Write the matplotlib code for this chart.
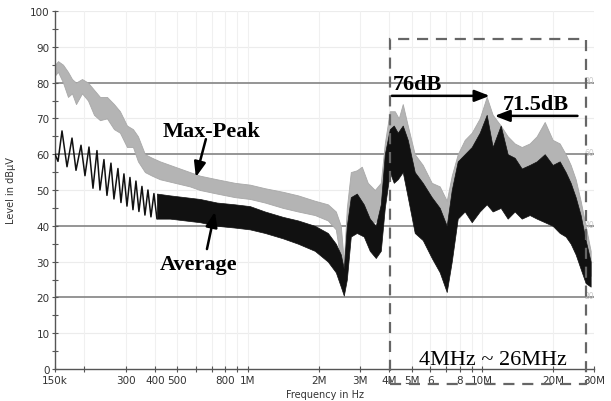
import numpy as np
import matplotlib
matplotlib.use("Agg")
import matplotlib.pyplot as plt
from matplotlib.ticker import FixedLocator, NullFormatter
from matplotlib.patches import Rectangle

# Average trace, low band: individual ripples (Hz, dBuV)
avg_osc_f = [150.0e3, 154.5e3, 160.7e3, 168.8e3, 177.3e3, 184.4e3, 193.7e3, 201.4e3,
             209.5e3, 217.9e3, 226.6e3, 233.4e3, 242.7e3, 250.0e3, 260.0e3, 267.8e3,
             278.5e3, 286.9e3, 295.4e3, 304.3e3, 313.4e3, 322.8e3, 332.4e3, 342.3e3,
             352.6e3, 363.1e3, 374.0e3, 385.2e3, 396.7e3, 408.5e3]
avg_osc_db = [60, 58, 66.5, 56.5, 64.5, 55.5, 62.5, 54, 62, 50.5, 61, 50, 58.5, 48.5,
              57.5, 47.5, 56, 46.5, 54.5, 45.5, 53.5, 44.5, 52.5, 44, 51, 43, 50, 42.5,
              49, 42]

# Average trace, dense part: envelope (MHz, low, high)
avg_f = [0.4085, 0.4642, 0.5379, 0.6233, 0.7366, 0.879, 1.0187, 1.1803, 1.4085, 1.6346,
         1.929, 2.192, 2.371, 2.49, 2.565, 2.642, 2.747, 2.914, 3.121, 3.311, 3.512,
         3.689, 3.837, 4.03, 4.191, 4.359, 4.578, 4.809, 5.151, 5.572, 6.087, 6.585,
         7.053, 7.41, 7.859, 8.418, 9.018, 9.755, 10.449, 11.08, 11.99, 12.84, 13.76,
         14.74, 15.94, 17.08, 18.48, 19.98, 21.41, 22.71, 23.85, 25.05, 26.3, 27.63, 29.03]
avg_lo = [42, 42, 41.5, 41, 40, 39.5, 39, 38, 36.5, 35, 33, 30, 27, 23, 20.5, 25, 37, 38,
          37, 33, 31, 33, 45, 55, 52, 53, 55, 48, 38, 36, 31, 27, 21.5, 30, 42, 44, 41,
          44, 46, 44, 45, 42, 44, 42, 43, 42, 41, 40, 38, 37, 35, 32, 28, 24, 23]
avg_hi = [49, 48.5, 48, 47.5, 46.5, 46, 45.5, 44, 42.5, 41.5, 40, 38, 35, 32, 28, 40, 48,
          49, 46, 42, 40, 46, 60, 67, 68, 66, 68, 64, 55, 52, 48, 45, 40, 50, 58, 60, 62,
          66, 71, 62, 68, 60, 59, 56, 57, 58, 60, 57, 58, 55, 52, 48, 43, 36, 30]

# Max-Peak trace envelope (MHz, low, high)
pk_f = [0.15, 0.1545, 0.1623, 0.1704, 0.1773, 0.1844, 0.1956, 0.2074, 0.22, 0.2334,
        0.25, 0.2678, 0.284, 0.3043, 0.3228, 0.339, 0.3631, 0.389, 0.4208, 0.4875,
        0.565, 0.6233, 0.7366, 0.879, 1.0187, 1.1803, 1.4085, 1.6346, 1.929, 2.192,
        2.371, 2.49, 2.565, 2.642, 2.747, 2.914, 3.061, 3.246, 3.478, 3.689, 3.837,
        4.03, 4.233, 4.402, 4.578, 4.809, 5.151, 5.572, 6.087, 6.585, 7.053, 7.41,
        7.859, 8.418, 9.018, 9.755, 10.449, 11.08, 11.99, 12.84, 13.76, 14.74, 15.94,
        17.08, 18.48, 19.98, 21.41, 22.71, 23.85, 25.05, 26.3, 27.63, 29.03]
pk_lo = [82, 83, 80, 76, 77, 74, 77, 75, 71, 69.5, 70, 67, 66, 62, 62, 58, 55, 54, 53, 52,
         51, 50, 49, 48, 47.5, 46.5, 45, 44, 43, 41.5, 39, 30, 24, 35, 45, 46, 45, 42, 41,
         42, 52, 62, 60, 62, 62, 56, 50, 48, 45, 40, 30, 38, 50, 52, 50, 52, 54, 52, 52,
         50, 50, 48, 50, 49, 48, 46, 45, 44, 42, 38, 33, 28, 26]
pk_hi = [85, 86, 85, 83, 81, 80, 81, 80, 78, 76, 76, 74, 72, 68, 67, 65, 60, 59, 58, 56.5,
         55, 54, 53, 52, 51.5, 50.5, 49.5, 48.5, 47, 46, 44, 40, 30, 45, 55, 55.5, 56.5,
         52, 50, 52, 63, 72, 72, 70, 74, 68, 60, 57, 52, 51, 47, 54, 60, 64, 66, 70, 76,
         71, 68, 65, 63, 62, 63, 65, 69, 64, 63, 60, 57, 53, 47, 40, 33]

xticks = [150e3, 300e3, 400e3, 500e3, 800e3, 1e6, 2e6, 3e6, 4e6, 5e6, 6e6, 8e6, 10e6, 20e6, 30e6]
xtick_labels = ["150k", "300", "400", "500", "800", "1M", "2M", "3M", "4M", "5M", "6",
                "8", "10M", "20M", "30M"]
xminor = [200e3, 600e3, 700e3, 900e3, 7e6, 9e6]
limit_lines = [20, 40, 60, 80]

W, H = 611, 402
fig = plt.figure(figsize=(W / 100, H / 100), dpi=100)
ax = fig.add_axes([55 / W, 32 / H, (594 - 55) / W, (370 - 12) / H])
ax.set_xscale("log")
ax.set_xlim(150e3, 30e6)
ax.set_ylim(0, 100)

# faint background grid
for y in range(10, 101, 10):
    if y not in limit_lines:
        ax.axhline(y, color="#ececec", lw=0.8, zorder=0)
for x in xticks[1:] + xminor:
    ax.axvline(x, color="#f0f0f0", lw=0.8, zorder=0)
for y in limit_lines:
    ax.axhline(y, color="#8c8c8c", lw=1.3, zorder=1)
    ax.text(28.6e6, y + 0.5, str(y), fontsize=5.5, color="#c8c8c8", va="center",
            ha="center", zorder=6)

pf = np.array(pk_f) * 1e6
af = np.array(avg_f) * 1e6
ax.fill_between(pf, pk_lo, pk_hi, color="#b4b4b4", lw=0.6, edgecolor="#a8a8a8", zorder=2)
ax.fill_between(af, avg_lo, avg_hi, color="#111111", lw=0.5, edgecolor="#111111", zorder=3)
ax.plot(avg_osc_f, avg_osc_db, color="#111111", lw=1.1, zorder=3)

ax.spines["top"].set_visible(False)
ax.spines["right"].set_visible(False)
for s in ("left", "bottom"):
    ax.spines[s].set_color("#555555")
    ax.spines[s].set_linewidth(1.0)

ax.xaxis.set_major_locator(FixedLocator(xticks))
ax.set_xticklabels(xtick_labels)
ax.xaxis.set_minor_locator(FixedLocator(xminor))
ax.xaxis.set_minor_formatter(NullFormatter())
ax.set_yticks(range(0, 101, 10))
ax.yaxis.set_minor_locator(FixedLocator(range(5, 100, 10)))
ax.tick_params(which="both", direction="inout", length=5, width=0.8, color="#555555",
               labelsize=7.5, labelcolor="#333333", pad=1.5)
ax.tick_params(which="minor", length=4)

ax.set_ylabel("Level in dBµV", fontsize=7, color="#333333", labelpad=10)
ax.set_xlabel("Frequency in Hz", fontsize=7, color="#333333", labelpad=3)

serif = ["Liberation Serif", "DejaVu Serif"]
arrow = dict(arrowstyle="-|>,head_length=0.9,head_width=0.35", color="black", lw=1.8,
             shrinkA=0, shrinkB=0)
ax.text(0.4334e6, 65.1, "Max-Peak", fontsize=16, fontweight="bold", family=serif,
        va="baseline", zorder=7)
ax.annotate("", xy=(0.599e6, 53.6), xytext=(0.661e6, 64.2), arrowprops=arrow, zorder=7)
ax.text(0.4208e6, 27.9, "Average", fontsize=16, fontweight="bold", family=serif,
        va="baseline", zorder=7)
ax.annotate("", xy=(0.722e6, 43.9), xytext=(0.668e6, 33.5), arrowprops=arrow, zorder=7)
ax.text(4.15e6, 78.2, "76dB", fontsize=16, fontweight="bold", family=serif,
        va="baseline", zorder=7)
ax.annotate("", xy=(10.76e6, 76.3), xytext=(4.11e6, 76.3), arrowprops=arrow, zorder=7)
ax.text(12.23e6, 72.6, "71.5dB", fontsize=16, fontweight="bold", family=serif,
        va="baseline", zorder=7)
ax.annotate("", xy=(11.3e6, 70.7), xytext=(25.5e6, 70.7), arrowprops=arrow, zorder=7)

ax.text(11.08e6, 1.4, "4MHz ~ 26MHz", fontsize=16, family=serif, ha="center",
        va="baseline", zorder=7)
ax.add_patch(Rectangle((4.03e6, -4.2), 27.6e6 - 4.03e6, 92.2 + 4.2, fill=False,
                       edgecolor="#666666", lw=1.6, ls=(0, (5, 3.5)), clip_on=False,
                       zorder=8))

fig.savefig("out.png", dpi=100)
